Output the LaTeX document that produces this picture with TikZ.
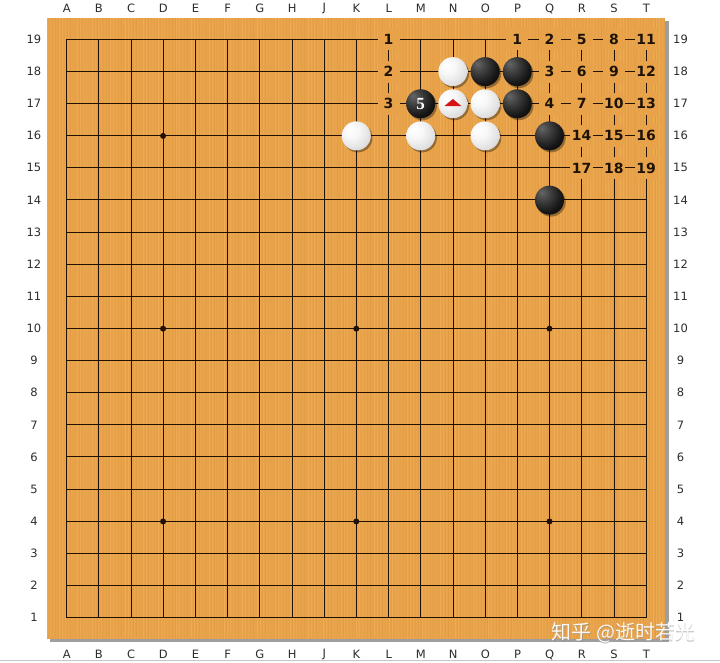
\documentclass[tikz,border=0pt]{standalone}
\usepackage{fontspec}
\setmainfont{DejaVu Sans}
\newfontfamily\cjkfont{Noto Sans CJK SC}
\newfontfamily\stoneserif{Liberation Serif}
\definecolor{boardc}{RGB}{232,163,74}
\definecolor{boardlight}{RGB}{246,188,104}
\definecolor{boarddark}{RGB}{212,140,55}
\definecolor{linec}{RGB}{34,17,2}
\definecolor{labc}{RGB}{30,18,4}
\definecolor{coordc}{RGB}{45,45,45}
\definecolor{trired}{RGB}{215,20,20}
\pgfdeclareradialshading{bstoneshade}{\pgfpoint{-14bp}{14bp}}{%
  color(0bp)=(black!60!white); color(14bp)=(black!76!white);
  color(30bp)=(black!92!white); color(55bp)=(black); color(80bp)=(black)}
\pgfdeclareradialshading{wstoneshade}{\pgfpoint{-12bp}{12bp}}{%
  color(0bp)=(white); color(14bp)=(white!97!black);
  color(30bp)=(white!88!black); color(46bp)=(white!74!black); color(60bp)=(white!58!black); color(80bp)=(white!50!black)}
\tikzset{
  coordlab/.style={font=\fontsize{11.5}{12}\selectfont, text=coordc, inner sep=0pt},
  bstone/.style={circle, minimum size=29pt, inner sep=0pt, shade, shading=bstoneshade},
  wstone/.style={circle, minimum size=29pt, inner sep=0pt, shade, shading=wstoneshade},
  lab/.style={fill=boardc, text=labc, font=\bfseries\fontsize{14}{14}\selectfont,
    minimum width=22pt, minimum height=22pt, inner xsep=1.5pt, inner ysep=0pt},
  gridline/.style={draw=linec, line width=1.35pt},
}
\begin{document}
\begin{tikzpicture}[x=1pt,y=-1pt]
\useasboundingbox (0,0) rectangle (720,663);
\fill[white] (0,0) rectangle (720,663);
\draw[black!22, line width=1pt] (0,660.5) -- (720,660.5);
% board shadow and board
\fill[black!38] (50,21.5) rectangle (668.5,641.5);
\fill[boardc] (47,18) rectangle (665,638.5);
% wood grain
\foreach \k in {0,...,205}{
  \pgfmathsetmacro\xx{47.8+3*\k}
  \pgfmathsetmacro\op{mod(\k*53+7,11)/26}
  \pgfmathsetmacro\opd{mod(\k*29+3,13)/40}
  \draw[boardlight, opacity=\op, line width=1.3pt] (\xx,18.5) -- (\xx,638);
  \draw[boarddark, opacity=\opd, line width=0.9pt] (\xx+1.5,18.5) -- (\xx+1.5,638);
}
% coordinates
\foreach \l [count=\i from 0] in {A,B,C,D,E,F,G,H,J,K,L,M,N,O,P,Q,R,S,T}{
  \node[coordlab] (top\l) at ({66.7+32.2*\i},8.5) {\l};
  \node[coordlab] (bot\l) at ({66.7+32.2*\i},654.5) {\l};
}
\foreach \r in {1,...,19}{
  \node[coordlab] (left\r) at (34,{39.3+32.13*(19-\r)}) {\r};
  \node[coordlab] (right\r) at (680.5,{39.3+32.13*(19-\r)}) {\r};
}
% grid, snapped to pixel centres
\foreach \i in {0,...,18}{
  \pgfmathsetmacro\gx{round(66.7+32.2*\i-0.5)+0.5}
  \pgfmathsetmacro\gy{round(39.3+32.13*\i-0.5)+0.5}
  \draw[gridline] (\gx,39) -- (\gx,618.2);
  \draw[gridline] (66.2,\gy) -- (646.8,\gy);
}
\begin{scope}[xshift=66.5pt, yshift=-39.5pt, x=32.2pt, y=-32.13pt]
  \foreach \i in {3,9,15}{
    \foreach \j in {3,9,15}{
      \fill[linec] (\i,\j) circle (3pt);
    }
  }
  % stone shadows
  \foreach \i/\j in {9/3,11/3,13/3,15/3,15/5,12/1,13/1,14/1,11/2,12/2,13/2,14/2}{
    \fill[black, opacity=0.35] (\i,\j) ++(1.6pt,-1.9pt) circle (14.6pt);
  }
  % stones
  \node[wstone] (wK16) at (9,3) {};
  \node[wstone] (wM16) at (11,3) {};
  \node[wstone] (wO16) at (13,3) {};
  \node[bstone] (bQ16) at (15,3) {};
  \node[bstone] (bQ14) at (15,5) {};
  \node[wstone] (wN18) at (12,1) {};
  \node[bstone] (bO18) at (13,1) {};
  \node[bstone] (bP18) at (14,1) {};
  \node[bstone] (bM17) at (11,2) {};
  \node[wstone] (wN17) at (12,2) {};
  \node[wstone] (wO17) at (13,2) {};
  \node[bstone] (bP17) at (14,2) {};
  \node[text=white, font=\stoneserif\bfseries\fontsize{17}{17}\selectfont, inner sep=0pt] (m5) at (bM17) {5};
  \fill[trired] (wN17.center) ++(0pt,4.8pt) -- ++(8.6pt,-7.2pt) -- ++(-17.2pt,0pt) -- cycle;
  % labels
  \foreach \i/\j/\t in {10/0/1,10/1/2,10/2/3,
      14/0/1,15/0/2,16/0/5,17/0/8,18/0/11,
      15/1/3,16/1/6,17/1/9,18/1/12,
      15/2/4,16/2/7,17/2/10,18/2/13,
      16/3/14,17/3/15,18/3/16,
      16/4/17,17/4/18,18/4/19}{
    \node[lab] (L\i-\j) at (\i,\j) {\t};
  }
\end{scope}
% watermark
\node[font=\cjkfont\fontsize{20}{20}\selectfont, text=black!45, opacity=0.6, inner sep=0pt] (wmshadow) at (624.2,633.6) {知乎 @逝时若光};
\node[font=\cjkfont\fontsize{20}{20}\selectfont, text=white, opacity=0.92, inner sep=0pt] (wm) at (623.5,632.8) {知乎 @逝时若光};
\end{tikzpicture}
\end{document}
